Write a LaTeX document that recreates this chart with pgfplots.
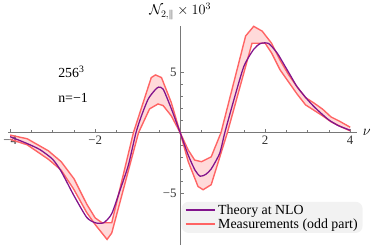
\documentclass[border=0pt]{standalone}
\usepackage{pgfplots}
\pgfplotsset{compat=1.18}
\usepackage{pgfplotstable}
\usepgfplotslibrary{fillbetween}
\usepackage{fontspec}
\setmainfont{Liberation Serif}
\definecolor{meas}{RGB}{255,100,100}
\definecolor{measfill}{RGB}{255,218,218}
\definecolor{theo}{RGB}{130,20,140}
\definecolor{axgray}{RGB}{120,120,120}

\pgfplotstableread{
x y
-4.0 -0.55
-3.6 -1.0
-3.1 -2.2
-2.8 -3.1
-2.5 -4.7
-2.2 -6.6
-2.0 -7.6
-1.72 -8.83
-1.61 -8.3
-0.98 0.0
-0.72 1.97
-0.52 2.38
-0.40 2.24
-0.21 1.4
0 0
0.19 -2.4
0.42 -4.45
0.54 -4.72
0.73 -4.3
1.11 0.0
1.69 7.4
2.0 7.4
2.15 6.6
2.35 5.2
2.55 4.2
2.75 3.2
2.95 2.3
3.15 1.85
3.35 1.4
3.55 0.9
3.75 0.55
4.0 0.15
}\lowerM

\pgfplotstableread{
x y
-4.0 -0.2
-3.6 -0.5
-3.1 -1.5
-2.8 -2.4
-2.5 -3.8
-2.2 -5.9
-2.0 -7.05
-1.84 -7.45
-1.61 -7.45
-1.1 0
-0.68 4.56
-0.58 4.78
-0.44 4.56
-0.21 2.5
0 0
0.19 -1.44
0.34 -2.26
0.5 -2.4
0.73 -2.0
0.96 0
1.54 8.0
1.73 8.8
1.93 8.4
2.15 7.4
2.35 6.0
2.55 4.8
2.75 3.8
2.95 2.9
3.15 2.45
3.35 1.95
3.55 1.3
3.75 0.95
4.0 0.45
}\upperM

\pgfplotstableread{
x y
-4.0 -0.33
-3.6 -0.9
-3.3 -1.4
-3.0 -2.2
-2.8 -3.2
-2.5 -5.2
-2.2 -7.0
-2.0 -7.45
-1.8 -7.45
-1.61 -6.7
-1.4 -4.6
-1.22 -2.7
-1.04 0
-0.9 1.5
-0.75 2.8
-0.6 3.5
-0.51 3.77
-0.4 3.6
-0.21 2.0
0 0
0.19 -1.86
0.35 -3.1
0.47 -3.6
0.6 -3.45
0.73 -3.0
0.93 -1.7
1.05 0
1.27 2.8
1.5 5.5
1.73 6.9
1.89 7.38
2.08 7.38
2.28 6.6
2.45 5.6
2.6 4.7
2.75 3.8
2.98 2.8
3.15 2.15
3.33 1.56
3.5 1.05
3.71 0.6
3.85 0.4
4.0 0.2
}\theory

\begin{document}
\begin{tikzpicture}
\begin{axis}[
  x=42.9pt, y=12.2pt,
  xmin=-4.05, xmax=4.17, ymin=-9.3, ymax=8.8,
  axis lines=middle,
  axis line style={-, draw=axgray, line width=0.5pt},
  xtick={-4,-2,0,2,4}, xticklabels={−4,−2,,2,4},
  ytick={-5,0,5}, yticklabels={−5,,5},
  minor x tick num=3, minor y tick num=4,
  tick align=inside,
  major tick length=4pt, minor tick length=2.5pt,
  tick style={axgray, line width=0.5pt},
  ticklabel style={font=\fontsize{13}{15}\selectfont, text=black!80},
  xlabel={$\nu$},
  xlabel style={at={(axis cs:4.17,0)}, anchor=west, xshift=2pt, font=\fontsize{14}{16}\selectfont},
  ylabel={$\mathcal{N}_{2,\parallel}\times 10^{3}$},
  ylabel style={at={(axis cs:0,8.8)}, anchor=south, rotate=0, yshift=3pt, font=\fontsize{14}{16}\selectfont},
  clip=false,
  legend cell align=left,
  legend style={at={(axis cs:0.03,-5.7)}, anchor=north west, draw=none, fill=black!5,
    rounded corners=7pt, font=\fontsize{14}{15.5}\selectfont,
    inner xsep=3pt, inner ysep=1pt, row sep=-1pt},
]
\addplot[draw=none, name path=U, forget plot] table[x=x,y=y] {\upperM};
\addplot[draw=none, name path=L, forget plot] table[x=x,y=y] {\lowerM};
\addplot[fill=measfill, draw=none, forget plot] fill between[of=U and L];
\addplot[draw=meas, line width=1.4pt, forget plot] table[x=x,y=y] {\upperM};
\addplot[draw=meas, line width=1.4pt, forget plot] table[x=x,y=y] {\lowerM};
\addplot[draw=theo, line width=1.3pt, smooth, tension=0.4, forget plot] table[x=x,y=y] {\theory};
\addlegendimage{legend image code/.code={\draw[draw=theo, line width=1.8pt, sharp corners] (0pt,0pt) -- (30pt,0pt);}}
\addlegendentry{Theory at NLO}
\addlegendimage{legend image code/.code={\draw[draw=meas, line width=1.9pt, sharp corners] (0pt,0pt) -- (30pt,0pt);}}
\addlegendentry{Measurements (odd part)}
\node[anchor=west, font=\fontsize{14}{16}\selectfont] at (axis cs:-2.95,5.0) {256\textsuperscript{3}};
\node[anchor=west, font=\fontsize{14}{16}\selectfont] at (axis cs:-2.95,2.85) {n=−1};
\end{axis}
\end{tikzpicture}
\end{document}
